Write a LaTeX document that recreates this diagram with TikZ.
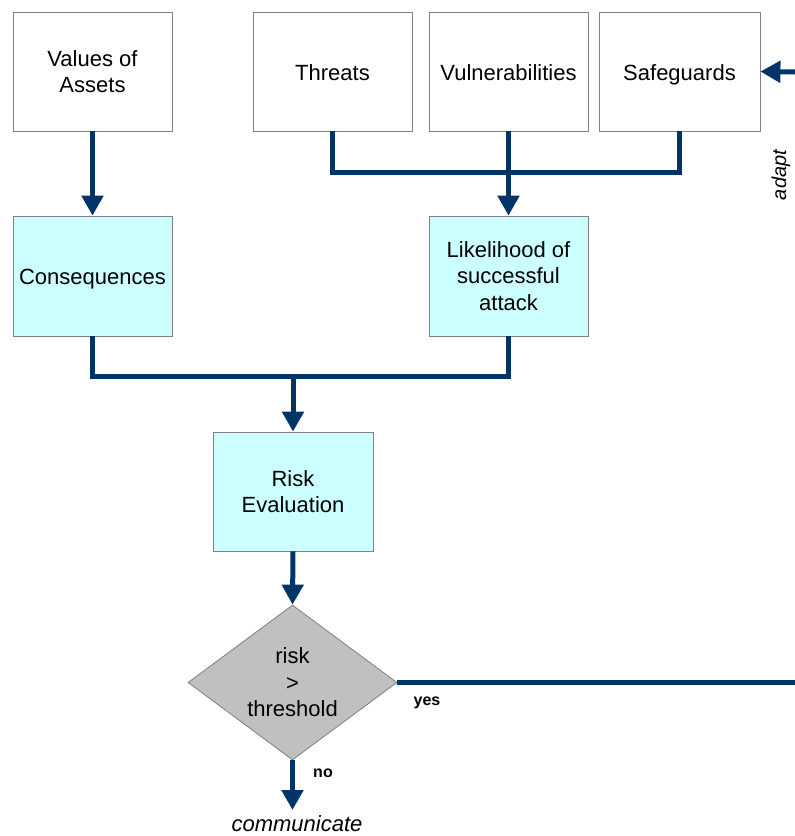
\documentclass[tikz,border=0pt]{standalone}
\usepackage{fontspec}
\setmainfont{Liberation Sans}
\usetikzlibrary{arrows.meta,shapes.geometric}
\definecolor{navy}{RGB}{0,51,102}
\definecolor{lightcyan}{RGB}{204,255,255}
\definecolor{boxgray}{RGB}{128,128,128}
\definecolor{diagray}{RGB}{192,192,192}
\tikzset{
  box/.style={draw=boxgray, line width=0.8pt, fill=white, minimum width=159pt,
    minimum height=119pt, inner sep=0pt, align=center, font=\fontsize{22}{26.5}\selectfont},
  oneline/.style={text height=19pt, text depth=2pt},
  calcbox/.style={box, fill=lightcyan},
  flow/.style={draw=navy, line width=5pt, line join=miter},
  flowarrow/.style={flow, -{Triangle[width=21pt,length=20pt]}},
  decision/.style={diamond, draw=boxgray, line width=0.8pt, fill=diagray, inner sep=0pt,
    aspect=1.35, minimum width=209pt, minimum height=155pt, align=center,
    font=\fontsize{22}{26.5}\selectfont},
  tag/.style={font=\fontsize{16}{18}\selectfont\bfseries},
  remark/.style={font=\fontsize{22}{26}\selectfont\itshape}
}
\begin{document}
\begin{tikzpicture}[x=1pt,y=-1pt]
\useasboundingbox (0,0) rectangle (795,836);
\fill[white] (0,0) rectangle (795,836);

% input boxes
\node[box] (va)  at (92.5,71.5)  {Values of\\Assets};
\node[box, oneline] (thr) at (332.5,71.5) {Threats};
\node[box, oneline] (vul) at (508.5,71.5) {Vulnerabilities};
\node[box, oneline, minimum width=161pt] (saf) at (679.5,71.5) {Safeguards};

% derived quantities
\node[calcbox, oneline, minimum height=120pt] (cons) at (92.5,276) {Consequences};
\node[calcbox, minimum height=120pt] (lik)  at (508.5,276) {Likelihood of\\successful\\attack};
\node[calcbox, minimum width=160pt] (risk) at (293,491.5) {Risk\\Evaluation};

% decision
\node[decision] (dia) at (292.5,682.5) {risk\\>\\threshold};

% junction and loose-end points
\coordinate (j1) at (508.5,172);
\coordinate (j2) at (293,376);
\coordinate (yesend) at (795,682.5);
\coordinate (adaptin) at (795,72);
\coordinate (noend) at (292.5,810);

% connectors
\draw[flowarrow] (va.south) -- (cons.north);
\draw[flow] (thr.south) |- (j1) -| (saf.south);
\draw[flowarrow] (vul.south) -- (lik.north);
\draw[flow] (cons.south) |- (j2) -| (lik.south);
\draw[flowarrow] (j2) -- (risk.north);
\draw[flowarrow] (risk.south) -- (dia.north);
\draw[flow] (dia.east) -- (yesend);
\draw[flowarrow] (adaptin) -- (saf.east);
\draw[flowarrow] (dia.south) -- (noend);

% labels
\node[tag] (yes) at (427,703) {yes};
\node[tag] (no) at (323,773) {no};
\node[remark] (comm) at (297,823.5) {communicate};
\node[remark, rotate=90, font=\fontsize{20}{24}\selectfont\itshape] (adapt) at (781,175) {adapt};
\end{tikzpicture}
\end{document}
